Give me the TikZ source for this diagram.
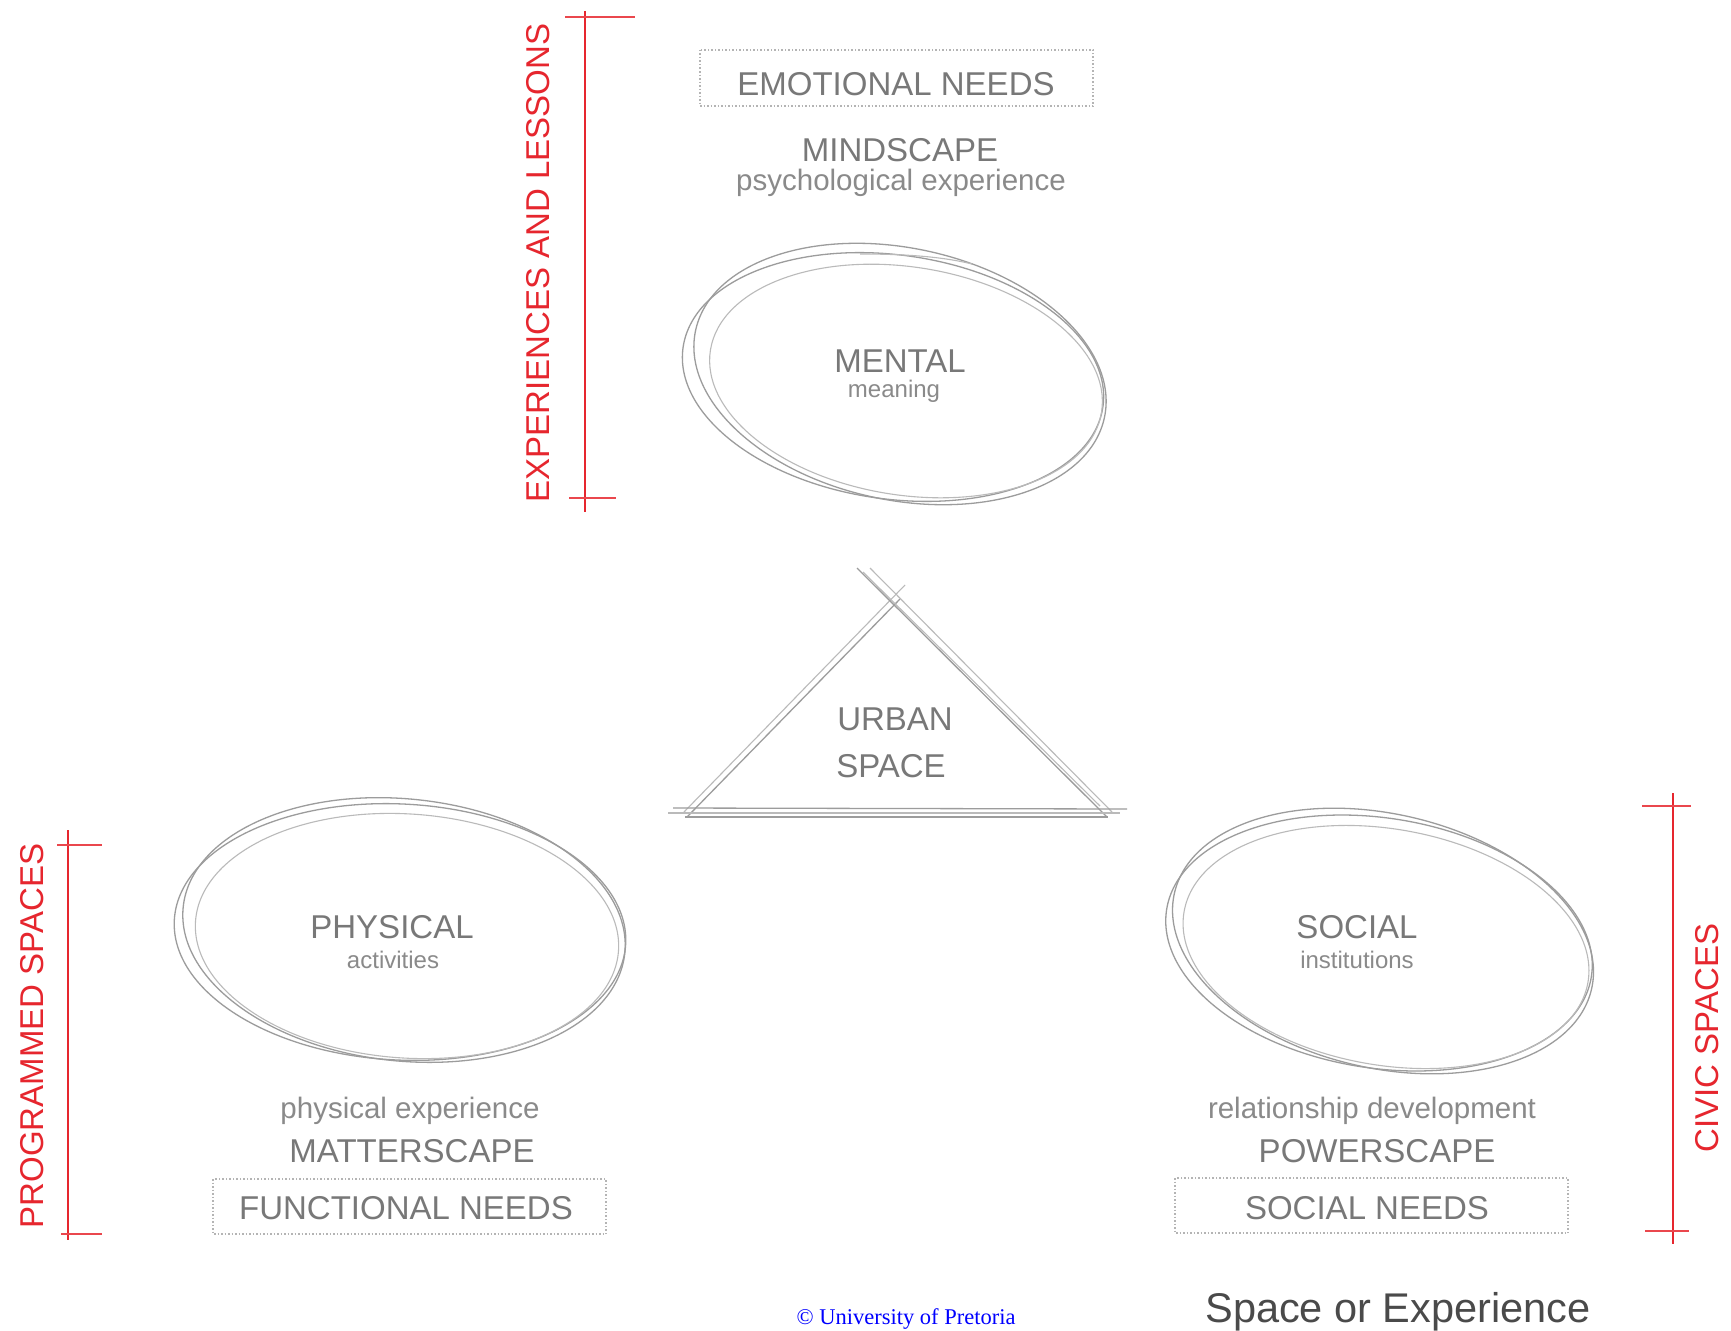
\documentclass[tikz,border=0pt]{standalone}
\usepackage{fontspec}
\setmainfont{Liberation Sans}
\newfontfamily\cpfont{Liberation Serif}
\definecolor{txtgray}{HTML}{787878}
\definecolor{subgray}{HTML}{8A8A8A}
\definecolor{skgray}{HTML}{9C9C9C}
\definecolor{boxgray}{HTML}{B4B4B4}
\definecolor{redc}{HTML}{E6262E}
\definecolor{darktxt}{HTML}{4A4A4A}
\newcommand\myfs[1]{\fontsize{#1}{#1}\selectfont}
\begin{document}
\begin{tikzpicture}[x=1pt,y=-1pt,
  captxt/.style={font=\myfs{33}, text=txtgray, inner sep=0, anchor=base},
  subtxt/.style={font=\myfs{29.5}, text=subgray, inner sep=0, anchor=base},
  innertxt/.style={font=\myfs{24}, text=subgray, inner sep=0, anchor=base},
  redlab/.style={font=\myfs{33}, text=redc, rotate=90, inner sep=0, anchor=center},
  sk/.style={draw=skgray, line width=1.3pt},
  sklight/.style={draw=skgray!70, line width=1.1pt},
  needbox/.style={draw=boxgray, line width=1.2pt, dash pattern=on 1.5pt off 2pt},
  redbar/.style={draw=redc, line width=2pt},
  redtick/.style={draw=redc!85, line width=2.2pt}]
\useasboundingbox (0,0) rectangle (1731,1330);
\fill[white] (0,0) rectangle (1731,1330);

% ---------- red bars ----------
\draw[redbar] (585,11) -- (585,512);
\draw[redtick] (565,17) -- (635,17);
\draw[redtick] (569,498) -- (616,498);
\node[redlab] (expl) at (538,263) {EXPERIENCES AND LESSONS};

\draw[redbar] (68,830) -- (68,1240);
\draw[redtick] (57,845) -- (102,845);
\draw[redtick] (61,1234) -- (102,1234);
\node[redlab] (prog) at (32,1036) {PROGRAMMED SPACES};

\draw[redbar] (1673,793) -- (1673,1244);
\draw[redtick] (1642,806) -- (1691,806);
\draw[redtick] (1645,1231) -- (1689,1231);
\node[redlab] (civic) at (1707,1038) {CIVIC SPACES};

% ---------- top : mental ----------
\draw[needbox] (700,50) rectangle (1093,106);
\node[captxt] (emo) at (896,95) {EMOTIONAL NEEDS};
\node[captxt] (mind) at (900,161) {MINDSCAPE};
\node[subtxt] (psy) at (901,190) {psychological experience};

\draw[sk, shift={(893,377)}, rotate=-8] (0,0) ellipse (212 and 122);
\draw[sklight, shift={(906,381)}, rotate=-9] (0,0) ellipse (198 and 114);
\draw[sk, shift={(900,374)}, rotate=-12] (0,0) ellipse (209 and 126);
\draw[sklight] (860,254) .. controls (900,254) and (940,256) .. (972,264);
\node[captxt] (mental) at (900,372) {MENTAL};
\node[innertxt] (meaning) at (894,397) {meaning};

% ---------- centre : urban space ----------
\draw[sk] (687,817) -- (900,599);
\draw[sklight] (684,812) -- (905,585);
\draw[sk] (857,568) -- (1107,817);
\draw[sklight] (870,568) -- (1112,812);
\draw[sklight] (863,572) -- (1100,806);
\draw[sk] (673,808) -- (1127,809);
\draw[sk] (685,817) -- (1108,817);
\draw[sklight] (668,813) -- (1120,813);
\node[captxt] (urban) at (895,730) {URBAN};
\node[captxt] (space) at (891,777) {SPACE};

% ---------- left : physical ----------
\draw[sk, shift={(400,932)}, rotate=-3] (0,0) ellipse (226 and 128);
\draw[sklight, shift={(407,936)}, rotate=-4] (0,0) ellipse (212 and 122);
\draw[sk, shift={(404,930)}, rotate=-6] (0,0) ellipse (222 and 131);
\node[captxt] (phys) at (392,938) {PHYSICAL};
\node[innertxt] (act) at (393,968) {activities};
\node[subtxt] (pexp) at (410,1118) {physical experience};
\node[captxt] (matter) at (412,1162) {MATTERSCAPE};
\draw[needbox] (213,1179) rectangle (606,1234);
\node[captxt] (func) at (406,1219) {FUNCTIONAL NEEDS};

% ---------- right : social ----------
\draw[sk, shift={(1379,943)}, rotate=-9] (0,0) ellipse (215 and 125);
\draw[sklight, shift={(1386,947)}, rotate=-10] (0,0) ellipse (205 and 118);
\draw[sk, shift={(1383,941)}, rotate=-13] (0,0) ellipse (214 and 127);
\node[captxt] (social) at (1357,938) {SOCIAL};
\node[innertxt] (inst) at (1357,968) {institutions};
\node[subtxt] (rel) at (1372,1118) {relationship development};
\node[captxt] (power) at (1377,1162) {POWERSCAPE};
\draw[needbox] (1175,1178) rectangle (1568,1233);
\node[captxt] (socn) at (1367,1219) {SOCIAL NEEDS};

% ---------- bottom ----------
\node[font=\myfs{41.5}, text=darktxt, inner sep=0, anchor=base] (soe) at (1398,1322) {Space or Experience};
\node[font=\cpfont\myfs{22.5}, text=blue, inner sep=0, anchor=base] (cp) at (906,1324) {© University of Pretoria};
\end{tikzpicture}
\end{document}
